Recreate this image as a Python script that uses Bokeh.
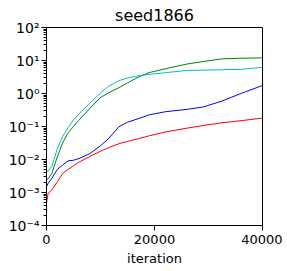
from bokeh.plotting import figure
from bokeh.models import Range1d, FixedTicker, CustomJSTickFormatter
from bokeh.embed import file_html
from bokeh.resources import INLINE

iteration = [0, 300, 1000, 2000, 3000, 4000, 5000, 6000, 8000, 10000, 11500,
             13400, 15000, 17100, 19000, 22000, 26000, 29000, 32500, 36000, 40000]
green_vals = [2.4e-3, 2.6e-3, 3.8e-3, 1.2e-2, 3.2e-2, 6.5e-2, 0.10, 0.155, 0.35, 0.76, 1.05,
              1.5, 2.1, 3.2, 4.3, 5.6, 7.8, 9.3, 11.2, 11.7, 12.0]
cyan_vals = [4.3e-3, 4.5e-3, 6.3e-3, 2.1e-2, 5.0e-2, 9.3e-2, 0.16, 0.24, 0.50, 1.05, 1.65,
             2.45, 2.95, 3.45, 3.8, 4.25, 5.0, 5.1, 5.25, 5.4, 6.2]
blue_vals = [1.5e-3, 1.9e-3, 2.7e-3, 5.0e-3, 6.8e-3, 9.1e-3, 9.5e-3, 1.07e-2, 1.5e-2, 2.6e-2, 4.3e-2,
             9.8e-2, 0.135, 0.175, 0.225, 0.28, 0.33, 0.39, 0.59, 1.0, 1.75]
red_vals = [4.7e-4, 9.5e-4, 1.2e-3, 2.1e-3, 3.8e-3, 5.0e-3, 6.5e-3, 8.3e-3, 1.23e-2, 1.78e-2, 2.3e-2,
            3.0e-2, 3.55e-2, 4.3e-2, 5.2e-2, 6.8e-2, 8.9e-2, 0.107, 0.13, 0.15, 0.18]

x_ticks = [0, 20000, 40000]
y_ticks = [1e-4, 1e-3, 1e-2, 1e-1, 1e0, 1e1, 1e2]
title_text = "seed1866"
x_label = "iteration"

FONT = "DejaVu Sans"

p = figure(width=282, height=269, y_axis_type="log",
           x_range=Range1d(0, 40000), y_range=Range1d(1e-4, 1e2),
           output_backend="svg", toolbar_location=None,
           min_border_left=46, min_border_right=20, min_border_top=26, min_border_bottom=44)

p.line(iteration, green_vals, line_color="#008000", line_width=1)
p.line(iteration, cyan_vals, line_color="#00bfbf", line_width=1)
p.line(iteration, blue_vals, line_color="#0000ff", line_width=1)
p.line(iteration, red_vals, line_color="#ff0000", line_width=1)

p.title.text = title_text
p.title.text_font = FONT
p.title.text_font_size = "16px"
p.title.text_font_style = "normal"
p.title.align = "center"
p.title.text_color = "black"
p.title.standoff = 6

p.xgrid.visible = False
p.ygrid.visible = False
p.outline_line_color = "black"
p.outline_line_alpha = 1.0

minor = []
for e in range(-4, 2):
    for k in range(2, 10):
        minor.append(k * 10.0 ** e)

p.xaxis.ticker = FixedTicker(ticks=x_ticks)
p.yaxis.ticker = FixedTicker(ticks=y_ticks, minor_ticks=minor)
p.yaxis.formatter = CustomJSTickFormatter(code="""
const sup = {'-':'\u207b','0':'\u2070','1':'\u00b9','2':'\u00b2','3':'\u00b3','4':'\u2074','5':'\u2075','6':'\u2076','7':'\u2077','8':'\u2078','9':'\u2079'};
const e = Math.round(Math.log10(tick));
return '10' + String(e).split('').map(c => sup[c]).join('');
""")
p.xaxis.formatter = CustomJSTickFormatter(code="return String(Math.round(tick));")

for ax in [p.xaxis[0], p.yaxis[0]]:
    ax.axis_line_color = "black"
    ax.major_tick_line_color = "black"
    ax.minor_tick_line_color = "black"
    ax.major_tick_in = 0
    ax.major_tick_out = 5
    ax.minor_tick_in = 0
    ax.minor_tick_out = 3
    ax.major_label_text_font = FONT
    ax.major_label_text_font_size = "13px"
    ax.major_label_text_color = "black"
    ax.major_label_standoff = 4

p.yaxis.major_label_text_font_size = "14px"
p.yaxis.major_label_standoff = 2
p.xaxis.minor_tick_line_color = None
p.xaxis.axis_label = x_label
p.xaxis.axis_label_text_font = FONT
p.xaxis.axis_label_text_font_size = "13px"
p.xaxis.axis_label_text_font_style = "normal"
p.xaxis.axis_label_text_color = "black"
p.xaxis.axis_label_standoff = 4

open("out.html", "w").write(file_html(p, INLINE))
